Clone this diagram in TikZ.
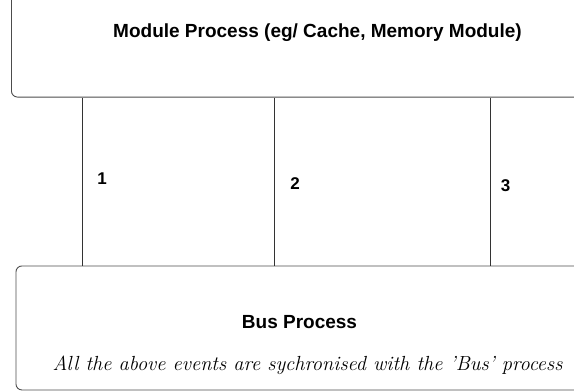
\documentclass[tikz,border=0pt]{standalone}
\usepackage{fontspec}
\setsansfont{Liberation Sans}
\begin{document}
\begin{tikzpicture}[x=1pt,y=-1pt,
  procbox/.style={draw=black!70,line width=0.9pt,rounded corners=6pt,
    rectangle,inner sep=0pt},
  link/.style={draw=black!80,line width=0.9pt},
  boldlabel/.style={font=\sffamily\bfseries\fontsize{19}{22}\selectfont,inner sep=0pt},
  numlabel/.style={font=\sffamily\bfseries\fontsize{17}{20}\selectfont,inner sep=0pt},
  notelabel/.style={font=\itshape\fontsize{20.4}{24}\selectfont,inner sep=0pt}]
  \useasboundingbox (0,0) rectangle (574,391);
  \clip (0,0) rectangle (574,391);

  % module process box (runs off the top and right edges)
  \node[procbox,minimum width=600pt,minimum height=110pt,anchor=south west]
    (module) at (11,97.5) {};
  % bus process box (runs off the right edge)
  \node[procbox,minimum width=600pt,minimum height=124pt,anchor=north west]
    (bus) at (15.5,265.5) {};

  % synchronisation channels between the two processes
  \foreach \i/\xx in {1/82.5,2/274.5,3/490.5}{
    \coordinate (t\i) at (\xx,97.5);
    \coordinate (b\i) at (\xx,265.5);
    \draw[link] (module.south -| t\i) -- (bus.north -| b\i);
  }

  \node[boldlabel] (mtitle) at (317.5,33) {Module Process (eg/ Cache, Memory Module)};
  \node[numlabel] (n1) at (102,179) {1};
  \node[numlabel] (n2) at (295,184) {2};
  \node[numlabel] (n3) at (505.5,186) {3};
  \node[boldlabel] (btitle) at (299.5,322) {Bus Process};
  \node[notelabel] (note) at (307.5,365) {All the above events are sychronised with the 'Bus' process};
\end{tikzpicture}
\end{document}
